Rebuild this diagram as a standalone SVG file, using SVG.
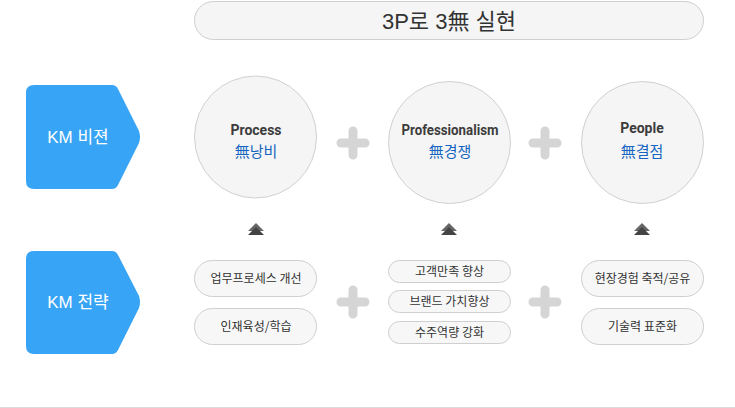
<svg xmlns="http://www.w3.org/2000/svg" width="735" height="408" viewBox="0 0 735 408">
<style>
.km{fill:#38a4f6}
.kmt{font-family:"Liberation Sans","Noto Sans CJK KR",sans-serif;font-size:17px;fill:#fff;text-anchor:middle}
.circ{fill:#f5f5f5;stroke:#d0d0d0;stroke-width:1}
.en{font-family:Roboto,"Noto Sans",sans-serif;font-size:14px;font-weight:bold;fill:#3c3c3c;text-anchor:middle}
.mu{font-family:"Noto Sans CJK KR",sans-serif;font-size:15px;fill:#1565c0;text-anchor:middle}
.pill{fill:#f7f7f7;stroke:#cfcfcf;stroke-width:1}
.pt{font-family:"Noto Sans CJK KR",sans-serif;font-size:12px;fill:#333;text-anchor:middle}
.plus{stroke:#d5d5d5;stroke-width:9;stroke-linecap:round;fill:none}
</style>
<defs>
<g id="arr">
<polygon points="-8,8 0,0 8,8" fill="#666"/>
<polygon points="-8,12 0,4 8,12" fill="#444"/>
</g>
</defs>
<rect width="735" height="408" fill="#fff"/>
<g id="banner">
<rect x="194.5" y="1.5" width="509" height="38" rx="19" fill="#f5f5f5" stroke="#cfcfcf"/>
<text x="449" y="29" font-family="'Liberation Sans','Noto Sans CJK KR',sans-serif" font-size="22" fill="#333" text-anchor="middle">3P로 3無 실현</text>
</g>
<g id="km-vision">
<path class="km" d="M34,85 H112 Q116,85 118,89 L139,131 Q141,137 139,143 L118,185 Q116,189 112,189 H34 Q26,189 26,181 V93 Q26,85 34,85 Z"/>
<text class="kmt" x="78" y="143">KM 비젼</text>
</g>
<g id="km-strategy">
<path class="km" d="M34,251 H112 Q116,251 118,255 L139,296 Q141,302 139,308 L118,350 Q116,354 112,354 H34 Q26,354 26,346 V259 Q26,251 34,251 Z"/>
<text class="kmt" x="78" y="308">KM 전략</text>
</g>
<g id="process">
<circle class="circ" cx="255.5" cy="137" r="61"/>
<text class="en" x="256" y="135">Process</text>
<text class="mu" x="256" y="157">無낭비</text>
</g>
<g id="professionalism">
<circle class="circ" cx="449.5" cy="142.5" r="61"/>
<text class="en" x="450" y="135" textLength="97" lengthAdjust="spacingAndGlyphs">Professionalism</text>
<text class="mu" x="450" y="157">無경쟁</text>
</g>
<g id="people">
<circle class="circ" cx="642.5" cy="142.5" r="61"/>
<text class="en" x="642" y="133">People</text>
<text class="mu" x="642" y="157">無결점</text>
</g>
<g id="connectors">
<path class="plus" d="M341,143 H365 M353,131 V155"/>
<path class="plus" d="M533,143 H557 M545,131 V155"/>
<path class="plus" d="M341,302 H365 M353,290 V314"/>
<path class="plus" d="M533,302 H557 M545,290 V314"/>
<use href="#arr" x="256" y="223"/>
<use href="#arr" x="449" y="223"/>
<use href="#arr" x="642" y="223"/>
</g>
<g id="s-process">
<rect class="pill" x="194.5" y="260.5" width="122" height="36" rx="18"/>
<text class="pt" x="256" y="283">업무프로세스 개선</text>
<rect class="pill" x="194.5" y="308.5" width="122" height="36" rx="18"/>
<text class="pt" x="256" y="331">인재육성/학습</text>
</g>
<g id="s-professionalism">
<rect class="pill" x="388.5" y="260.5" width="122" height="22" rx="11"/>
<text class="pt" x="449.5" y="276">고객만족 향상</text>
<rect class="pill" x="388.5" y="290.5" width="122" height="22" rx="11"/>
<text class="pt" x="449.5" y="306">브랜드 가치향상</text>
<rect class="pill" x="388.5" y="321.5" width="122" height="22" rx="11"/>
<text class="pt" x="449.5" y="337">수주역량 강화</text>
</g>
<g id="s-people">
<rect class="pill" x="581.5" y="260.5" width="122" height="36" rx="18"/>
<text class="pt" x="642.5" y="283">현장경험 축적/공유</text>
<rect class="pill" x="581.5" y="308.5" width="122" height="36" rx="18"/>
<text class="pt" x="642.5" y="331">기술력 표준화</text>
</g>
<line x1="0" y1="407.5" x2="735" y2="407.5" stroke="#dcdcdc"/>
</svg>
